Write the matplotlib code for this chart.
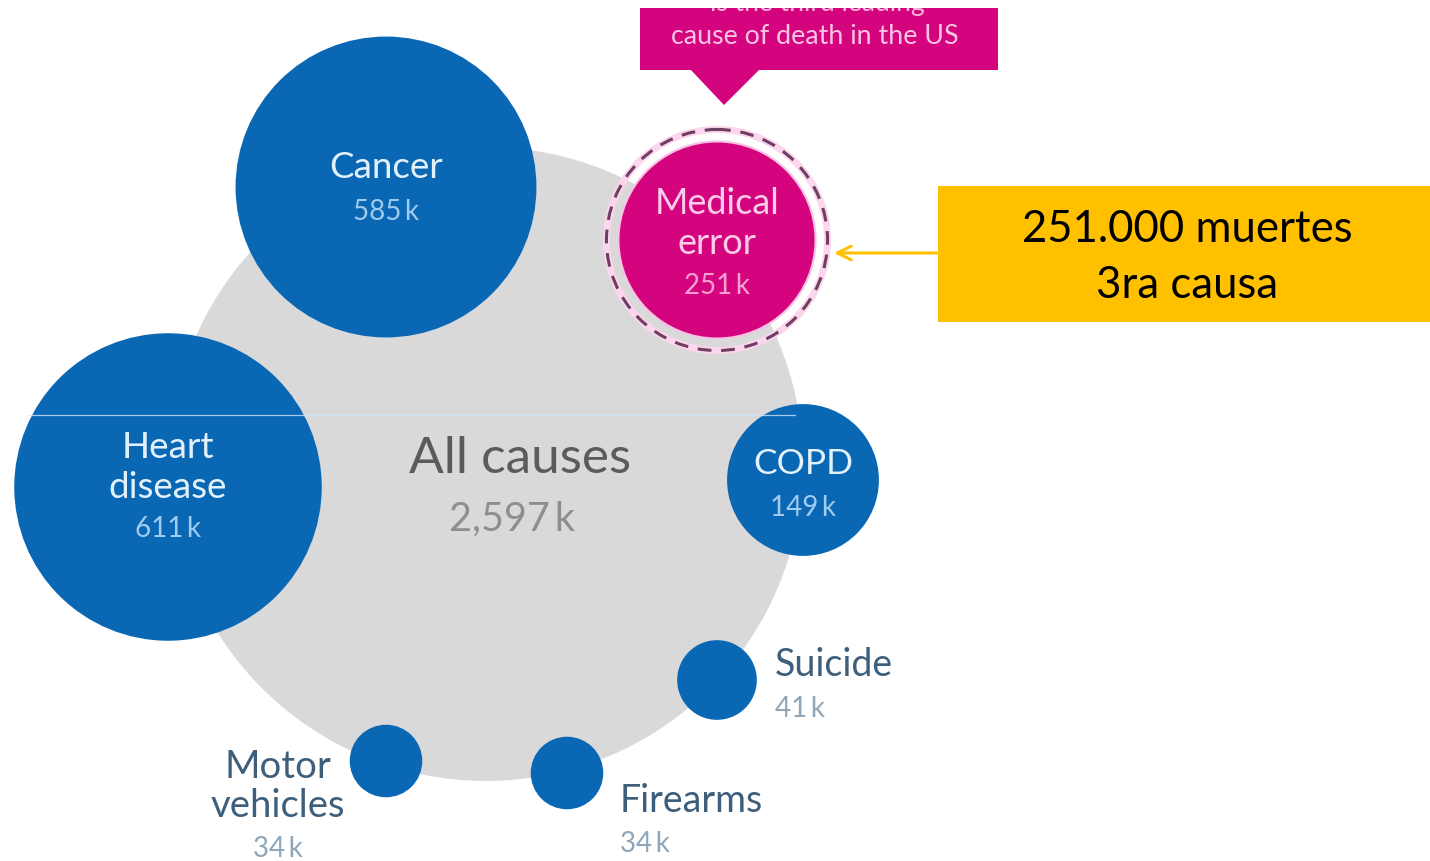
import numpy as np
import matplotlib.pyplot as plt
from matplotlib.patches import Circle, Rectangle, Polygon

# deaths per year in the US, thousands
causes = ['All causes', 'Cancer', 'Heart disease', 'Medical error', 'COPD',
          'Suicide', 'Firearms', 'Motor vehicles']
deaths_k = [2597, 585, 611, 251, 149, 41, 34, 34]
labels = ['All causes', 'Cancer', 'Heart\ndisease', 'Medical\nerror', 'COPD',
          'Suicide', 'Firearms', 'Motor\nvehicles']
value_text = ['2,597\u2009k', '585\u2009k', '611\u2009k', '251\u2009k', '149\u2009k',
              '41\u2009k', '34\u2009k', '34\u2009k']
note_lines = ['251.000 muertes', '3ra causa']

# layout (pixel space, y down)
W, H = 1430, 861
K = 6.22  # radius per sqrt(thousand deaths)
centers = [(486, 464), (386, 187), (168, 487), (717, 240), (803, 480),
           (717, 680), (567, 773), (386, 761)]

BLUE = '#0a67b4'
MAGENTA = '#d4037e'
GRAY = '#d9d9d9'
FONT = ['Lato', 'DejaVu Sans']

fig = plt.figure(figsize=(W / 100, H / 100), dpi=100)
ax = fig.add_axes([0, 0, 1, 1])
ax.set_xlim(0, W)
ax.set_ylim(H, 0)
ax.set_aspect('equal')
ax.axis('off')

radii = [K * np.sqrt(v) for v in deaths_k]
colors = [GRAY, BLUE, BLUE, MAGENTA, BLUE, BLUE, BLUE, BLUE]

for i, ((cx, cy), r, c) in enumerate(zip(centers, radii, colors)):
    z = 1 if i == 0 else 3
    ec = '#f7c2e2' if c == MAGENTA else 'none'
    ax.add_patch(Circle((cx, cy), r, facecolor=c, edgecolor=ec, lw=1.5, zorder=z))

# dashed halo around medical error
mx, my = centers[3]
ax.add_patch(Circle((mx, my), radii[3] + 12, facecolor='none', edgecolor='#fbd6ec',
                    lw=5, zorder=2))
ax.add_patch(Circle((mx, my), radii[3] + 12, facecolor='none', edgecolor='#6e3f63',
                    lw=2.2, linestyle=(0, (4.5, 3.2)), zorder=4))

# faint horizontal streak
ax.plot([28, 795], [415, 415], color='#cfe6fa', lw=0.9, alpha=0.8, zorder=5)


def put(x, y, s, size, color, ha='center', z=6):
    return ax.text(x, y, s, ha=ha, va='center', fontsize=size, color=color,
                   family=FONT, zorder=z)


# labels inside the big circles
IN_LAB, IN_VAL = '#e3f1fb', '#9fcbee'
put(520, 459, labels[0], 37, '#5b5b5b', z=2)
put(512, 519, value_text[0], 28.5, '#8e8e8e', z=2)

put(386, 168, labels[1], 26.5, IN_LAB)
put(386, 212, value_text[1], 20, IN_VAL)

heart = labels[2].split('\n')
put(168, 447, heart[0], 26.5, IN_LAB)
put(168, 487, heart[1], 26.5, IN_LAB)
put(168, 529, value_text[2], 20, IN_VAL)

med = labels[3].split('\n')
put(717, 204, med[0], 26, '#fbcbe8')
put(717, 244, med[1], 26, '#fbcbe8')
put(717, 286, value_text[3], 20, '#f59fd2')

put(803, 464, labels[4], 25.5, IN_LAB)
put(803, 508, value_text[4], 20, IN_VAL)

# labels beside the small circles
OUT_LAB, OUT_VAL = '#3d5f7c', '#8ea6b7'
put(775, 665, labels[5], 27, OUT_LAB, ha='left')
put(775, 709, value_text[5], 20, OUT_VAL, ha='left')
put(620, 801, labels[6], 27, OUT_LAB, ha='left')
put(620, 844, value_text[6], 20, OUT_VAL, ha='left')
motor = labels[7].split('\n')
put(278, 767, motor[0], 27.5, OUT_LAB)
put(278, 806, motor[1], 27.5, OUT_LAB)
put(278, 849, value_text[7], 20, OUT_VAL)

# callout banner at the top, first line cut off by the frame edge
bx0, by0, bx1, by1 = 640, 8, 998, 70
ax.add_patch(Rectangle((bx0, by0), bx1 - bx0, by1 - by0, facecolor=MAGENTA,
                       edgecolor='none', zorder=6))
ax.add_patch(Polygon([(690, 69), (760, 69), (724, 105)], closed=True,
                     facecolor=MAGENTA, edgecolor='none', zorder=6))
ax.text(817, 11, 'is the third leading', ha='center', va='baseline',
        fontsize=19, color='#f6b8dc', family=FONT, zorder=7)
# white strip above the banner hides the upper part of that line
ax.add_patch(Rectangle((600, -5), 440, by0 + 5, facecolor='white', edgecolor='none',
                       zorder=8))
put(815, 37, 'cause of death in the US', 19.3, '#f8c4e2', z=7)

# yellow note box with arrow to the medical error bubble
ax.add_patch(Rectangle((938, 186), 492, 136, facecolor='#ffc000', edgecolor='none', zorder=6))
put(1187, 229, note_lines[0], 31.5, 'black', z=7)
put(1187, 285, note_lines[1], 31.5, 'black', z=7)
ax.annotate('', xy=(834, 253), xytext=(938, 253),
            arrowprops=dict(arrowstyle='->,head_length=1.0,head_width=0.5',
                            color='#ffc000', lw=2.2, shrinkA=0, shrinkB=0), zorder=7)

fig.savefig('out.png', dpi=100, facecolor='white')
